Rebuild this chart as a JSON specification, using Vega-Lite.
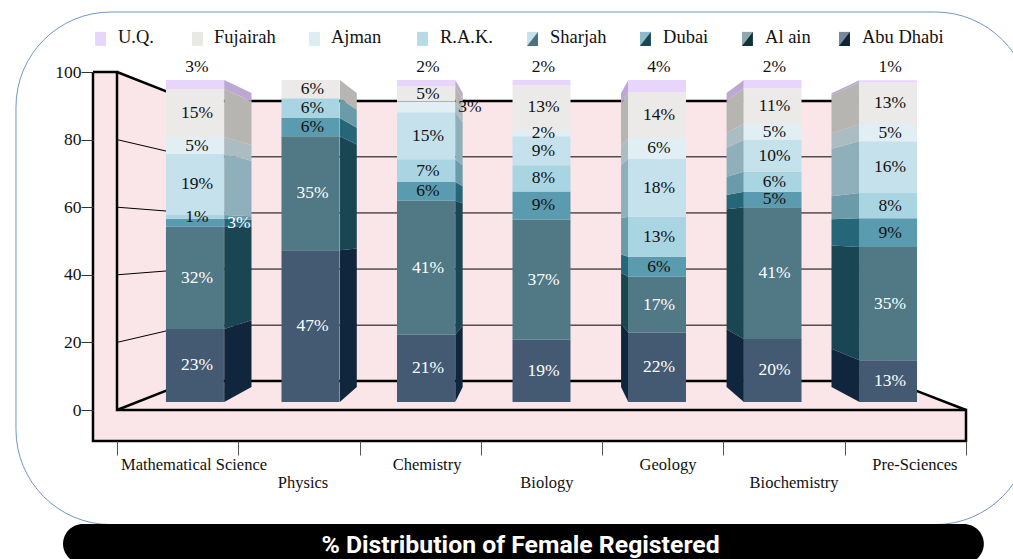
{"$schema":"https://vega.github.io/schema/vega-lite/v6.json","width":1013,"height":559,"padding":0,"autosize":{"type":"none"},"background":"white","config":{"view":{"stroke":null},"font":"Liberation Serif"},
"title":{"text":"% Distribution of Female Registered","orient":"bottom","anchor":"middle","offset":-31,"dx":14,"font":"Roboto","fontSize":24.8,"fontWeight":"bold","color":"white","zindex":1},
"datasets":{
"bars":[
{"category":"Mathematical Science","series":"Abu Dhabi","value":22.7,"label":"23%"},{"category":"Mathematical Science","series":"Al ain","value":31.7,"label":"32%"},{"category":"Mathematical Science","series":"Dubai","value":2.5,"label":"3%"},{"category":"Mathematical Science","series":"Sharjah","value":1.2,"label":"1%"},{"category":"Mathematical Science","series":"R.A.K.","value":18.9,"label":"19%"},{"category":"Mathematical Science","series":"Ajman","value":5.3,"label":"5%"},{"category":"Mathematical Science","series":"Fujairah","value":14.9,"label":"15%"},{"category":"Mathematical Science","series":"U.Q.","value":2.8,"label":"3%"},
{"category":"Physics","series":"Abu Dhabi","value":47.1,"label":"47%"},{"category":"Physics","series":"Al ain","value":35.4,"label":"35%"},{"category":"Physics","series":"Dubai","value":5.7,"label":"6%"},{"category":"Physics","series":"Sharjah","value":6.1,"label":"6%"},{"category":"Physics","series":"Fujairah","value":5.7,"label":"6%"},
{"category":"Chemistry","series":"Abu Dhabi","value":20.9,"label":"21%"},{"category":"Chemistry","series":"Al ain","value":41.6,"label":"41%"},{"category":"Chemistry","series":"Dubai","value":5.8,"label":"6%"},{"category":"Chemistry","series":"Sharjah","value":7.1,"label":"7%"},{"category":"Chemistry","series":"R.A.K.","value":14.6,"label":"15%"},{"category":"Chemistry","series":"Ajman","value":3.3,"label":"3%"},{"category":"Chemistry","series":"Fujairah","value":4.8,"label":"5%"},{"category":"Chemistry","series":"U.Q.","value":1.9,"label":"2%"},
{"category":"Biology","series":"Abu Dhabi","value":19.3,"label":"19%"},{"category":"Biology","series":"Al ain","value":37.4,"label":"37%"},{"category":"Biology","series":"Dubai","value":8.7,"label":"9%"},{"category":"Biology","series":"Sharjah","value":8.1,"label":"8%"},{"category":"Biology","series":"R.A.K.","value":9.0,"label":"9%"},{"category":"Biology","series":"Ajman","value":2.1,"label":"2%"},{"category":"Biology","series":"Fujairah","value":13.8,"label":"13%"},{"category":"Biology","series":"U.Q.","value":1.6,"label":"2%"},
{"category":"Geology","series":"Abu Dhabi","value":21.5,"label":"22%"},{"category":"Geology","series":"Al ain","value":17.4,"label":"17%"},{"category":"Geology","series":"Dubai","value":6.2,"label":"6%"},{"category":"Geology","series":"Sharjah","value":12.4,"label":"13%"},{"category":"Geology","series":"R.A.K.","value":18.0,"label":"18%"},{"category":"Geology","series":"Ajman","value":6.5,"label":"6%"},{"category":"Geology","series":"Fujairah","value":14.3,"label":"14%"},{"category":"Geology","series":"U.Q.","value":3.7,"label":"4%"},
{"category":"Biochemistry","series":"Abu Dhabi","value":19.6,"label":"20%"},{"category":"Biochemistry","series":"Al ain","value":40.9,"label":"41%"},{"category":"Biochemistry","series":"Dubai","value":4.8,"label":"5%"},{"category":"Biochemistry","series":"Sharjah","value":6.2,"label":"6%"},{"category":"Biochemistry","series":"R.A.K.","value":9.9,"label":"10%"},{"category":"Biochemistry","series":"Ajman","value":5.0,"label":"5%"},{"category":"Biochemistry","series":"Fujairah","value":11.0,"label":"11%"},{"category":"Biochemistry","series":"U.Q.","value":2.6,"label":"2%"},
{"category":"Pre-Sciences","series":"Abu Dhabi","value":13.0,"label":"13%"},{"category":"Pre-Sciences","series":"Al ain","value":35.1,"label":"35%"},{"category":"Pre-Sciences","series":"Dubai","value":9.0,"label":"9%"},{"category":"Pre-Sciences","series":"Sharjah","value":7.8,"label":"8%"},{"category":"Pre-Sciences","series":"R.A.K.","value":16.1,"label":"16%"},{"category":"Pre-Sciences","series":"Ajman","value":5.3,"label":"5%"},{"category":"Pre-Sciences","series":"Fujairah","value":13.0,"label":"13%"},{"category":"Pre-Sciences","series":"U.Q.","value":0.6,"label":"1%"}
],
"categories":[{"category":"Mathematical Science"},{"category":"Physics"},{"category":"Chemistry"},{"category":"Biology"},{"category":"Geology"},{"category":"Biochemistry"},{"category":"Pre-Sciences"}],
"legendEntries":[{"series":"U.Q."},{"series":"Fujairah"},{"series":"Ajman"},{"series":"R.A.K."},{"series":"Sharjah"},{"series":"Dubai"},{"series":"Al ain"},{"series":"Abu Dhabi"}],
"panels":[
{"part":"leftFront","slot":-0.198,"top":100,"base":-9.17},{"part":"leftFront","slot":0,"top":100,"base":-9.17},
{"part":"frontStrip","slot":0,"top":0,"base":-9.17},{"part":"frontStrip","slot":7,"top":0,"base":-9.17},
{"part":"leftWall","slot":0,"top":100,"base":0},{"part":"leftWall","slot":0.61,"top":91.4,"base":8.6},
{"part":"backWall","slot":0.61,"top":91.4,"base":8.6},{"part":"backWall","slot":6.38,"top":91.4,"base":8.6},
{"part":"floor","slot":0,"top":0,"base":0},{"part":"floor","slot":0.61,"top":8.6,"base":0},{"part":"floor","slot":6.38,"top":8.6,"base":0},{"part":"floor","slot":7,"top":0,"base":0}
],
"grid":[
{"tick":"20","slot":0,"level":20},{"tick":"20","slot":0.61,"level":25.1},{"tick":"20","slot":6.38,"level":25.1},
{"tick":"40","slot":0,"level":40},{"tick":"40","slot":0.61,"level":41.7},{"tick":"40","slot":6.38,"level":41.7},
{"tick":"60","slot":0,"level":60},{"tick":"60","slot":0.61,"level":58.3},{"tick":"60","slot":6.38,"level":58.3},
{"tick":"80","slot":0,"level":80},{"tick":"80","slot":0.61,"level":74.9},{"tick":"80","slot":6.38,"level":74.9}
],
"edges":[
{"edge":"outer","slot":-0.198,"level":100},{"edge":"outer","slot":-0.198,"level":-9.17},{"edge":"outer","slot":7,"level":-9.17},{"edge":"outer","slot":7,"level":0},{"edge":"outer","slot":0,"level":0},{"edge":"outer","slot":0,"level":100},{"edge":"outer","slot":-0.198,"level":100},
{"edge":"top","slot":0,"level":100},{"edge":"top","slot":0.61,"level":91.4},{"edge":"top","slot":6.38,"level":91.4},
{"edge":"back","slot":0,"level":0},{"edge":"back","slot":0.61,"level":8.6},{"edge":"back","slot":6.38,"level":8.6},{"edge":"back","slot":7,"level":0}
],
"outline":[{"x0":-0.833,"x1":7.53,"y0":117.75,"y1":-33.9}],
"banner":[{"x0":-0.445,"x1":7.147,"y0":-33.7,"y1":-45.5}]
},
"layer":[
{"data":{"name":"outline"},"mark":{"type":"rect","fill":"transparent","stroke":"#6f98c6","strokeWidth":1,"cornerRadius":95},"encoding":{"x":{"field":"x0","type":"quantitative","scale":{"domain":[0,7],"range":[117,966]},"axis":null},"x2":{"field":"x1"},"y":{"field":"y0","type":"quantitative","scale":{"domain":[0,100],"range":[410,72]},"axis":null},"y2":{"field":"y1"}}},
{"data":{"name":"banner"},"mark":{"type":"rect","fill":"black","cornerRadius":20},"encoding":{"x":{"field":"x0","type":"quantitative","scale":{"domain":[0,7],"range":[117,966]},"axis":null},"x2":{"field":"x1"},"y":{"field":"y0","type":"quantitative","scale":{"domain":[0,100],"range":[410,72]},"axis":null},"y2":{"field":"y1"}}},
{"data":{"name":"panels"},"mark":{"type":"area","fill":"#fae6e9","opacity":1},"encoding":{"x":{"field":"slot","type":"quantitative","scale":{"domain":[0,7],"range":[117,966]},"axis":null},"y":{"field":"top","type":"quantitative","scale":{"domain":[0,100],"range":[410,72]},"axis":null},"y2":{"field":"base"},"detail":{"field":"part"}}},
{"data":{"name":"grid"},"mark":{"type":"line","color":"black","strokeWidth":1},"encoding":{"x":{"field":"slot","type":"quantitative","scale":{"domain":[0,7],"range":[117,966]},"axis":null},"y":{"field":"level","type":"quantitative","scale":{"domain":[0,100],"range":[410,72]},"axis":{"orient":"left","offset":-93,"values":[0,20,40,60,80,100],"title":null,"grid":false,"domain":false,"tickSize":12,"tickColor":"#333333","labelPadding":0,"labelFontSize":17.5,"labelColor":"#111111","labelFont":"Liberation Serif","zindex":1}},"detail":{"field":"tick"},"order":{"value":null}}},
{"data":{"name":"edges"},"mark":{"type":"line","color":"black","strokeWidth":2.5,"strokeJoin":"miter"},"encoding":{"x":{"field":"slot","type":"quantitative","scale":{"domain":[0,7],"range":[117,966]},"axis":null},"y":{"field":"level","type":"quantitative","scale":{"domain":[0,100],"range":[410,72]},"axis":null},"detail":{"field":"edge"},"order":{"value":null}}},
{"data":{"name":"bars"},"transform":[
{"calculate":"indexof(['Abu Dhabi','Al ain','Dubai','Sharjah','R.A.K.','Ajman','Fujairah','U.Q.'],datum.series)","as":"rank"},
{"stack":"value","groupby":["category"],"sort":[{"field":"rank","order":"ascending"}],"as":["y0","y1"]},
{"calculate":"{'Mathematical Science':0.884,'Physics':1.837,'Chemistry':2.789,'Biology':3.74,'Geology':4.216,'Biochemistry':5.169,'Pre-Sciences':6.122}[datum.category]","as":"sideFront"},
{"calculate":"datum.sideFront+{'Mathematical Science':0.225,'Physics':0.14,'Chemistry':0.061,'Biology':0,'Geology':-0.06,'Biochemistry':-0.143,'Pre-Sciences':-0.231}[datum.category]","as":"sideBack"},
{"fold":["sideFront","sideBack"],"as":["face","sideX"]},
{"calculate":"datum.face=='sideFront'?datum.y0:4.66+0.913*datum.y0","as":"low"},
{"calculate":"datum.face=='sideFront'?datum.y1:4.66+0.913*datum.y1","as":"high"},
{"calculate":"datum.category+datum.series","as":"sideKey"}
],"mark":{"type":"area","opacity":1},"encoding":{"x":{"field":"sideX","type":"quantitative","scale":{"domain":[0,7],"range":[117,966]},"axis":null},"y":{"field":"high","type":"quantitative","scale":{"domain":[0,100],"range":[402,80]},"axis":null},"y2":{"field":"low"},"detail":{"field":"sideKey"},"color":{"field":"series","type":"nominal","legend":null,"scale":{"domain":["Abu Dhabi","Al ain","Dubai","Sharjah","R.A.K.","Ajman","Fujairah","U.Q."],"range":["#10263c","#1a4552","#256779","#6b9ba8","#8fb0bb","#abbcc3","#b6b5b2","#bda7d3"]}}}},
{"data":{"name":"bars"},"transform":[
{"calculate":"indexof(['Abu Dhabi','Al ain','Dubai','Sharjah','R.A.K.','Ajman','Fujairah','U.Q.'],datum.series)","as":"rank"},
{"stack":"value","groupby":["category"],"sort":[{"field":"rank","order":"ascending"}],"as":["y0","y1"]}
],"mark":{"type":"bar"},"encoding":{"x":{"field":"category","type":"nominal","sort":null,"scale":{"type":"band","domain":["Mathematical Science","Physics","Chemistry","Biology","Geology","Biochemistry","Pre-Sciences"],"range":[137.2,945.8],"paddingInner":0.498,"paddingOuter":0.249},"axis":null},"y":{"field":"y0","type":"quantitative","scale":{"domain":[0,100],"range":[402,80]},"axis":null},"y2":{"field":"y1"},"color":{"field":"series","type":"nominal","legend":null,"scale":{"domain":["Abu Dhabi","Al ain","Dubai","Sharjah","R.A.K.","Ajman","Fujairah","U.Q."],"range":["#445a72","#507885","#5a9bb0","#a9d5e3","#c4e1ec","#e1eff4","#ebeae8","#e8d5fb"]}}}},
{"data":{"name":"bars"},"transform":[
{"calculate":"indexof(['Abu Dhabi','Al ain','Dubai','Sharjah','R.A.K.','Ajman','Fujairah','U.Q.'],datum.series)","as":"rank"},
{"stack":"value","groupby":["category"],"sort":[{"field":"rank","order":"ascending"}],"as":["y0","y1"]},
{"calculate":"datum.series=='U.Q.'?104:(datum.y0+datum.y1)/2","as":"labelY"},
{"filter":"!((datum.category=='Mathematical Science'&&datum.series=='Dubai')||(datum.category=='Chemistry'&&datum.series=='Ajman'))"}
],"mark":{"type":"text","fontSize":17.5,"font":"Liberation Serif","dx":2},"encoding":{"x":{"field":"category","type":"nominal","sort":null,"scale":{"type":"band","domain":["Mathematical Science","Physics","Chemistry","Biology","Geology","Biochemistry","Pre-Sciences"],"range":[137.2,945.8],"paddingInner":0.498,"paddingOuter":0.249},"axis":null},"y":{"field":"labelY","type":"quantitative","scale":{"domain":[0,100],"range":[402,80]},"axis":null},"text":{"field":"label"},"color":{"condition":{"test":"datum.series=='Abu Dhabi'||datum.series=='Al ain'","value":"#ffffff"},"value":"#111111"}}},
{"data":{"name":"bars"},"transform":[
{"calculate":"indexof(['Abu Dhabi','Al ain','Dubai','Sharjah','R.A.K.','Ajman','Fujairah','U.Q.'],datum.series)","as":"rank"},
{"stack":"value","groupby":["category"],"sort":[{"field":"rank","order":"ascending"}],"as":["y0","y1"]},
{"calculate":"(datum.y0+datum.y1)/2","as":"labelY"},
{"filter":"(datum.category=='Mathematical Science'&&datum.series=='Dubai')||(datum.category=='Chemistry'&&datum.series=='Ajman')"}
],"mark":{"type":"text","fontSize":17.5,"font":"Liberation Serif","dx":44},"encoding":{"x":{"field":"category","type":"nominal","sort":null,"scale":{"type":"band","domain":["Mathematical Science","Physics","Chemistry","Biology","Geology","Biochemistry","Pre-Sciences"],"range":[137.2,945.8],"paddingInner":0.498,"paddingOuter":0.249},"axis":null},"y":{"field":"labelY","type":"quantitative","scale":{"domain":[0,100],"range":[402,80]},"axis":null},"text":{"field":"label"},"color":{"condition":{"test":"datum.series=='Dubai'","value":"#ffffff"},"value":"#111111"}}},
{"data":{"name":"categories"},"mark":{"type":"tick","opacity":0},"encoding":{"x":{"field":"category","type":"nominal","sort":null,"scale":{"type":"band","domain":["Mathematical Science","Physics","Chemistry","Biology","Geology","Biochemistry","Pre-Sciences"],"range":[117,966],"padding":0},"axis":{"orient":"bottom","offset":-118,"title":null,"domain":false,"grid":false,"tickBand":"extent","tickSize":14,"tickColor":"#555555","labels":false,"zindex":1}}}},
{"data":{"name":"categories"},"transform":[
{"calculate":"{'Mathematical Science':0.635,'Physics':1.534,'Chemistry':2.556,'Biology':3.545,'Geology':4.543,'Biochemistry':5.582,'Pre-Sciences':6.579}[datum.category]","as":"labelSlot"},
{"calculate":"indexof(['Physics','Biology','Biochemistry'],datum.category)>=0?-23.08:-17.75","as":"labelLevel"}
],"mark":{"type":"text","fontSize":16.5,"font":"Liberation Serif","color":"#111111","baseline":"alphabetic","align":"center"},"encoding":{"x":{"field":"labelSlot","type":"quantitative","scale":{"domain":[0,7],"range":[117,966]},"axis":null},"y":{"field":"labelLevel","type":"quantitative","scale":{"domain":[0,100],"range":[410,72]},"axis":null},"text":{"field":"category"}}},
{"data":{"name":"legendEntries"},"transform":[
{"calculate":"{'U.Q.':-0.136,'Fujairah':0.664,'Ajman':1.628,'R.A.K.':2.519,'Sharjah':3.426,'Dubai':4.357,'Al ain':5.198,'Abu Dhabi':5.998}[datum.series]","as":"keySlot"},
{"calculate":"109.8","as":"keyLevel"}
],"mark":{"type":"point","filled":true,"opacity":1,"size":784,"strokeWidth":0,"shape":"M-0.39,-0.5L0.39,-0.5L0.39,0.5L-0.39,0.5Z"},"encoding":{"x":{"field":"keySlot","type":"quantitative","scale":{"domain":[0,7],"range":[117,966]},"axis":null},"y":{"field":"keyLevel","type":"quantitative","scale":{"domain":[0,100],"range":[410,72]},"axis":null},"color":{"field":"series","type":"nominal","legend":null,"scale":{"domain":["U.Q.","Fujairah","Ajman","R.A.K.","Sharjah","Dubai","Al ain","Abu Dhabi"],"range":["#e8d5fb","#e8e8e5","#dcedf3","#b5dce6","#c4e1ec","#8fbccb","#8fa8b0","#76889a"]}}}},
{"data":{"name":"legendEntries"},"transform":[
{"filter":"indexof(['Sharjah','Dubai','Al ain','Abu Dhabi'],datum.series)>=0"},
{"calculate":"{'Sharjah':3.426,'Dubai':4.357,'Al ain':5.198,'Abu Dhabi':5.998}[datum.series]","as":"keySlot"},
{"calculate":"109.8","as":"keyLevel"}
],"mark":{"type":"point","filled":true,"opacity":1,"size":784,"strokeWidth":0,"shape":"M0.39,-0.5L0.39,0.5L-0.39,0.5Z"},"encoding":{"x":{"field":"keySlot","type":"quantitative","scale":{"domain":[0,7],"range":[117,966]},"axis":null},"y":{"field":"keyLevel","type":"quantitative","scale":{"domain":[0,100],"range":[410,72]},"axis":null},"color":{"field":"series","type":"nominal","legend":null,"scale":{"domain":["Sharjah","Dubai","Al ain","Abu Dhabi"],"range":["#4c7280","#1a4652","#123238","#0f2438"]}}}},
{"data":{"name":"legendEntries"},"transform":[
{"calculate":"{'U.Q.':0.008,'Fujairah':0.8,'Ajman':1.764,'R.A.K.':2.663,'Sharjah':3.57,'Dubai':4.502,'Al ain':5.343,'Abu Dhabi':6.142}[datum.series]","as":"keyTextSlot"},
{"calculate":"108.6","as":"keyTextLevel"}
],"mark":{"type":"text","fontSize":18.5,"font":"Liberation Serif","color":"#111111","align":"left","baseline":"alphabetic"},"encoding":{"x":{"field":"keyTextSlot","type":"quantitative","scale":{"domain":[0,7],"range":[117,966]},"axis":null},"y":{"field":"keyTextLevel","type":"quantitative","scale":{"domain":[0,100],"range":[410,72]},"axis":null},"text":{"field":"series"}}}
],
"resolve":{"scale":{"x":"independent","y":"independent","color":"independent"},"axis":{"x":"independent","y":"independent"}}
}
